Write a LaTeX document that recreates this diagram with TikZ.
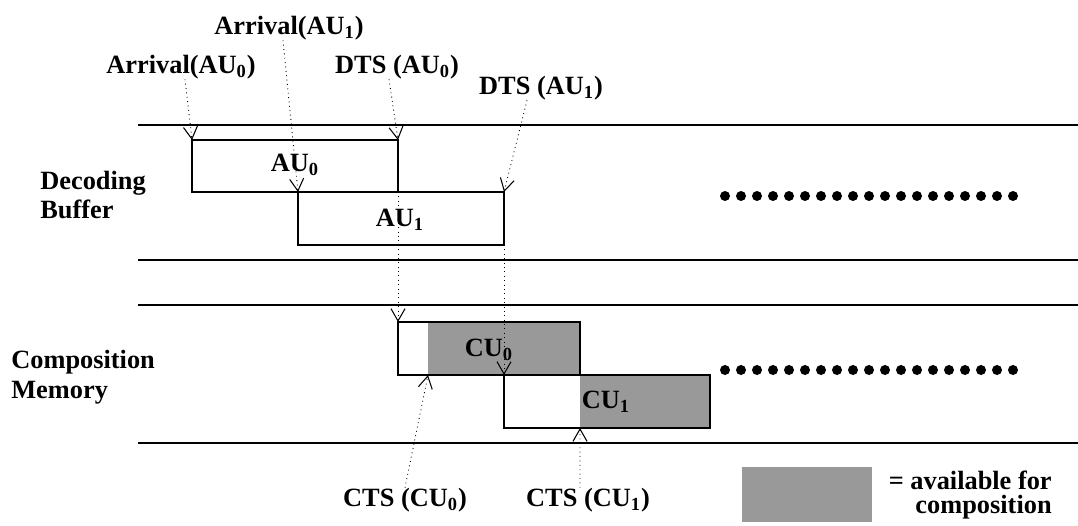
\documentclass[tikz,border=0pt]{standalone}
\usepackage{fontspec}
\setmainfont{Liberation Serif}
\usetikzlibrary{arrows.meta}
\definecolor{availgray}{RGB}{153,153,153}
\tikzset{
  lbl/.style={font=\bfseries\fontsize{15}{17}\selectfont, inner sep=0pt},
  ptr/.style={dotted, line width=0.5pt, -{Straight Barb[length=7pt,width=8pt,line width=0.6pt,sep=0pt]}},
  rail/.style={line width=1pt},
  box/.style={line width=1pt},
}
\begin{document}
\begin{tikzpicture}[x=0.02cm, y=-0.02cm]
    \useasboundingbox (0,0) rectangle (1078,525);

    % 横线
    \draw[rail] (138,125) -- (1078,125);
    \draw[rail] (138,260) -- (1078,260);
    \draw[rail] (138,305) -- (1078,305);
    \draw[rail] (138,443) -- (1078,443);

    % 左侧标签
    \node[lbl, align=left, anchor=west] (dbuf) at (40,195) {Decoding\\Buffer};
    \node[lbl, align=left, anchor=west] (cmem) at (11,377) {Composition\\Memory};

    % 解码缓冲区中的AU
    \draw[box] (192,140) rectangle (398,192);
    \draw[box] (298,192) rectangle (504,245);
    \coordinate (au0nw) at (192,140);
    \coordinate (au0ne) at (398,140);
    \coordinate (au0se) at (398,192);
    \coordinate (au1nw) at (298,192);
    \coordinate (au1ne) at (504,192);
    \coordinate (au1se) at (504,245);
    \node[lbl] (au0) at (295,165) {AU\textsubscript{0}};
    \node[lbl] (au1) at (400,220) {AU\textsubscript{1}};

    % 组合存储器中的CU
    \fill[availgray] (428,322) rectangle (580,375);
    \fill[availgray] (580,375) rectangle (710,428);
    \draw[box] (398,322) rectangle (580,375);
    \draw[box] (504,375) rectangle (710,428);
    \coordinate (cu0nw) at (398,322);
    \coordinate (cu0avail) at (428,375);
    \coordinate (cu1nw) at (504,375);
    \coordinate (cu1avail) at (580,428);
    \node[lbl] (cu0) at (489,350) {CU\textsubscript{0}};
    \node[lbl] (cu1) at (606,402) {CU\textsubscript{1}};

    % 时间标签
    \node[lbl] (arr0) at (181,67) {Arrival(AU\textsubscript{0})};
    \node[lbl] (arr1) at (289,28) {Arrival(AU\textsubscript{1})};
    \node[lbl] (dts0) at (397,67) {DTS (AU\textsubscript{0})};
    \node[lbl] (dts1) at (541,88) {DTS (AU\textsubscript{1})};
    \node[lbl] (cts0) at (405,500) {CTS (CU\textsubscript{0})};
    \node[lbl] (cts1) at (588,500) {CTS (CU\textsubscript{1})};

    % 虚线箭头
    \draw[ptr] ([xshift=0.08cm]arr0.south) -- (au0nw);
    \draw[ptr] ([xshift=-0.12cm]arr1.south) -- (au1nw);
    \draw[ptr] ([xshift=-0.16cm]dts0.south) -- (au0ne);
    \draw[ptr] ([xshift=-0.28cm]dts1.south) -- (au1ne);
    \draw[ptr] (au0se) -- (cu0nw);
    \draw[ptr] (au1se) -- (cu1nw);
    \draw[ptr] (cts0.north) -- (cu0avail);
    \draw[ptr] ([xshift=-0.16cm]cts1.north) -- (cu1avail);

    % 省略号
    \foreach \i in {0,...,18} {
        \fill (725+16*\i,196) circle (1mm);
        \fill (725+16*\i,370) circle (1mm);
    }

    % 图例
    \fill[availgray] (742,467) rectangle (872,522);
    \node[lbl, align=right, anchor=east] (legend) at (1052,495) {= available for\\[-3.5pt]composition};
\end{tikzpicture}
\end{document}
